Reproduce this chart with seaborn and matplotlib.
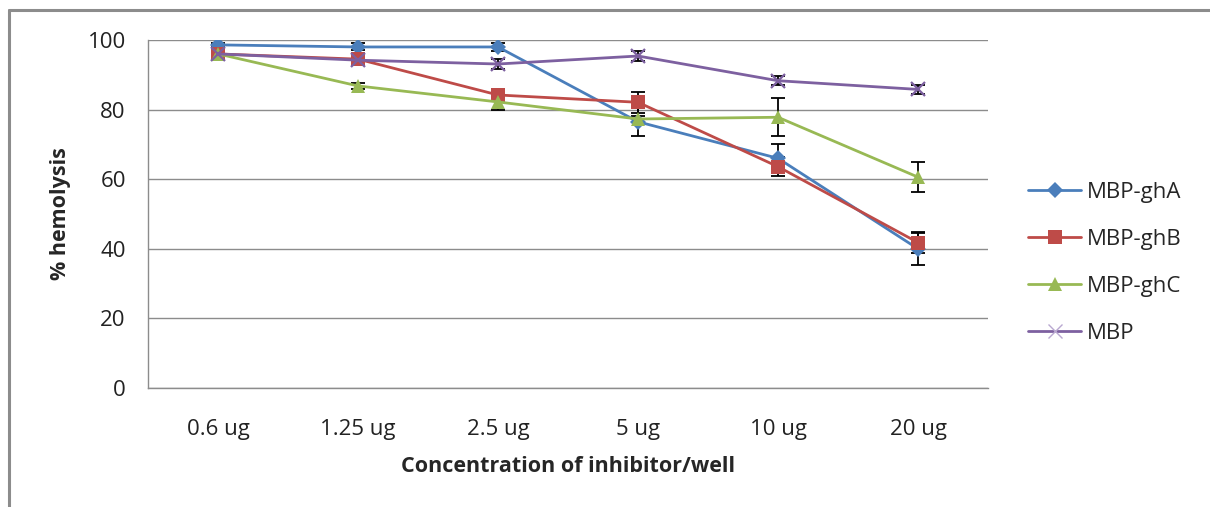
import matplotlib
matplotlib.use("Agg")
import matplotlib.pyplot as plt
import seaborn as sns
import pandas as pd
from matplotlib.lines import Line2D

categories = ["0.6 ug", "1.25 ug", "2.5 ug", "5 ug", "10 ug", "20 ug"]
series_names = ["MBP-ghA", "MBP-ghB", "MBP-ghC", "MBP"]
gha = [98.6, 98.0, 98.0, 76.5, 66.0, 40.0]
ghb = [96.0, 94.5, 84.2, 82.1, 63.6, 41.8]
ghc = [96.0, 86.8, 82.2, 77.3, 77.8, 60.6]
mbp = [96.0, 94.2, 93.1, 95.4, 88.3, 85.8]
gha_err = [0.6, 1.0, 1.2, 4.0, 4.0, 4.6]
ghb_err = [0.6, 0.8, 0.8, 3.0, 2.7, 3.1]
ghc_err = [0.6, 0.8, 2.4, 1.0, 5.4, 4.2]
mbp_err = [0.8, 0.8, 1.5, 1.3, 1.3, 1.2]

values = [gha, ghb, ghc, mbp]
errors = [gha_err, ghb_err, ghc_err, mbp_err]
colors = ["#4A7EBB", "#BE4B48", "#98B954", "#7D60A0"]
markers = ["D", "s", "^", "x"]
msizes = [8.5, 10.5, 10.5, 9.5]

sns.set_style("white")
plt.rcParams["font.family"] = ["Open Sans", "DejaVu Sans"]

rows = []
for name, vals in zip(series_names, values):
    for c, v in zip(categories, vals):
        rows.append({"conc": c, "val": v, "series": name})
df = pd.DataFrame(rows)

fig = plt.figure(figsize=(12.1, 5.07), dpi=100)
ax = fig.add_axes([148/1210, 1-388/507, (988-148)/1210, (388-40)/507])

xpos = list(range(len(categories)))
for i, (name, vals, errs) in enumerate(zip(series_names, values, errors)):
    ax.errorbar(xpos, vals, yerr=errs, fmt="none", ecolor="black",
                elinewidth=1.3, capsize=5, capthick=1.3, zorder=2)

for i, name in enumerate(series_names):
    sub = df[df["series"] == name].copy()
    sub["x"] = [categories.index(c) for c in sub["conc"]]
    mew = 1.6 if markers[i] == "x" else 0
    sns.lineplot(data=sub, x="x", y="val", ax=ax, color=colors[i],
                 marker=markers[i], markersize=msizes[i], linewidth=2.0,
                 markeredgewidth=mew, markeredgecolor=colors[i],
                 label=name, zorder=3 + i, legend=False)

ax.set_xlim(-0.5, len(categories) - 0.5)
ax.set_ylim(0, 100)
ax.set_yticks(range(0, 101, 20))
ax.set_xticks(xpos)
ax.set_xticklabels(categories)
ax.set_xticks([x - 0.5 for x in range(len(categories) + 1)], minor=True)
ax.tick_params(axis="x", which="major", length=0, pad=22, labelsize=16, colors="#222222")
ax.tick_params(axis="x", which="minor", length=6, width=1, color="#888888", direction="out")
ax.tick_params(axis="y", length=7, width=1, color="#888888", direction="out", pad=9,
               labelsize=16, labelcolor="#222222")
ax.yaxis.grid(True, color="#8C8C8C", linewidth=1)
ax.set_axisbelow(True)
for s in ["top", "right"]:
    ax.spines[s].set_visible(False)
for s in ["left", "bottom"]:
    ax.spines[s].set_color("#8C8C8C")
    ax.spines[s].set_linewidth(1)

ax.set_xlabel("Concentration of inhibitor/well", fontsize=15.5, fontweight="bold", labelpad=12)
ax.set_ylabel("% hemolysis", fontsize=15.5, fontweight="bold", labelpad=12)

handles = []
for i, name in enumerate(series_names):
    mew = 1.0 if markers[i] == "x" else 0
    mfc = "#B9A8D0" if markers[i] == "x" else colors[i]
    handles.append(Line2D([], [], color=colors[i], marker=markers[i],
                          markersize=msizes[i], linewidth=2.0,
                          markeredgewidth=mew,
                          markeredgecolor=mfc if markers[i] == "x" else colors[i],
                          markerfacecolor=mfc))
fig.legend(handles, series_names, loc="upper left", bbox_to_anchor=(1008/1210, 1-162/507),
           frameon=False, fontsize=16, handlelength=2.4, labelspacing=1.17,
           handletextpad=0.25)

fig.add_artist(Line2D([9/1210, 9/1210], [0, 1-9.5/507], color="#8C8C8C", linewidth=2.2,
                      transform=fig.transFigure))
fig.add_artist(Line2D([9/1210, 1], [1-9.5/507, 1-9.5/507], color="#8C8C8C", linewidth=2.2,
                      transform=fig.transFigure))

fig.savefig("out.png", dpi=100)
